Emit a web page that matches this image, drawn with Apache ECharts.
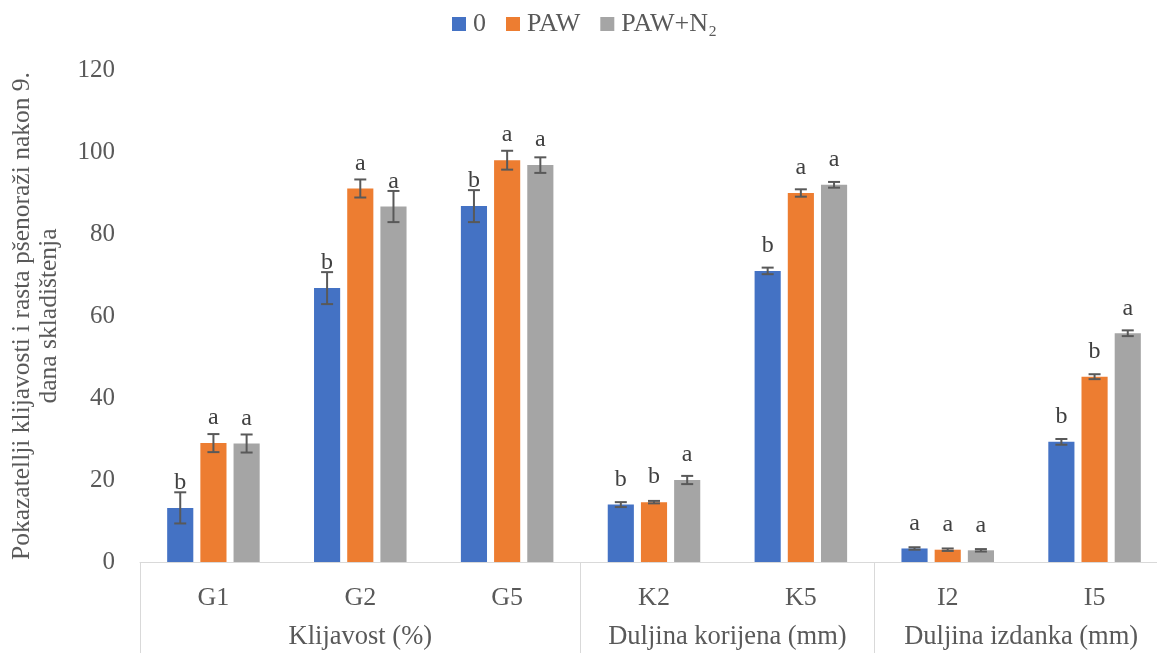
<!DOCTYPE html>
<html>
<head>
<meta charset="utf-8">
<script src="https://cdn.jsdelivr.net/npm/echarts@6/dist/echarts.min.js"></script>
<style>html,body{margin:0;padding:0;background:#fff;}#c{width:1157px;height:653px;}</style>
</head>
<body>
<div id="c"></div>
<script>
// ---- data ----
const categories = ['G1', 'G2', 'G5', 'K2', 'K5', 'I2', 'I5'];
const groupLabels = ['Klijavost (%)', 'Duljina korijena (mm)', 'Duljina izdanka (mm)'];
const groupBounds = [0, 3, 5, 7];        // category index boundaries of the groups
const groupCenters = [1.5, 4, 6];
const seriesNames = ['0', 'PAW', 'PAW+N\u2082'];
const values0 = [13.2, 66.8, 86.8, 14.0, 71.0, 3.3, 29.3];
const valuesPAW = [29.0, 91.1, 98.0, 14.6, 90.0, 3.0, 45.2];
const valuesPAWN2 = [28.9, 86.7, 96.8, 20.0, 92.0, 2.85, 55.8];
const err0 = [3.8, 3.9, 3.9, 0.6, 0.8, 0.3, 0.7];
const errPAW = [2.2, 2.2, 2.3, 0.3, 0.9, 0.3, 0.6];
const errPAWN2 = [2.2, 3.8, 1.9, 1.0, 0.7, 0.3, 0.7];
const letters0 = ['b', 'b', 'b', 'b', 'b', 'a', 'b'];
const lettersPAW = ['a', 'a', 'a', 'b', 'a', 'a', 'b'];
const lettersPAWN2 = ['a', 'a', 'a', 'a', 'a', 'a', 'a'];
const yTicks = { min: 0, max: 120, interval: 20 };
const yTitle = 'Pokazatellji klijavosti i rasta pšenoraži nakon 9.\ndana skladištenja';

// ---- styling ----
const colors = ['#4472C4', '#ED7D31', '#A5A5A5'];
const FONT = '"Liberation Serif", "Times New Roman", serif';
const CAT_GAP = 0.37, BAR_GAP = 0.27;

const chart = echarts.init(document.getElementById('c'), null, { renderer: 'canvas' });

function barSeries(idx, vals, letters) {
  return {
    name: seriesNames[idx], type: 'bar', data: vals,
    itemStyle: { color: colors[idx] },
    barGap: (BAR_GAP * 100) + '%', barCategoryGap: (CAT_GAP * 100) + '%',
    label: {
      show: true, position: 'top', distance: 13,
      formatter: p => letters[p.dataIndex],
      fontFamily: FONT, fontSize: 24, color: '#404040'
    }
  };
}
function errSeries(idx, vals, errs) {
  return {
    type: 'custom', silent: true, z: 10,
    data: vals.map((v, i) => [i, v, errs[i]]),
    encode: { x: 0, y: 1 },
    renderItem: function (params, api) {
      const i = api.value(0), v = api.value(1), e = api.value(2);
      const band = api.size([1, 0])[0];
      const barW = band * (1 - CAT_GAP) / (3 + 2 * BAR_GAP);
      const off = (idx - 1) * barW * (1 + BAR_GAP);
      const x = api.coord([i, v])[0] + off;
      const yt = api.coord([i, v + e])[1];
      const yb = api.coord([i, v - e])[1];
      const cap = 6;
      const st = { stroke: '#595959', lineWidth: 2 };
      return {
        type: 'group', children: [
          { type: 'line', shape: { x1: x, y1: yt, x2: x, y2: yb }, style: st },
          { type: 'line', shape: { x1: x - cap, y1: yt, x2: x + cap, y2: yt }, style: st },
          { type: 'line', shape: { x1: x - cap, y1: yb, x2: x + cap, y2: yb }, style: st }
        ]
      };
    }
  };
}

chart.setOption({
  animation: false,
  backgroundColor: '#fff',
  textStyle: { fontFamily: FONT },
  legend: {
    top: 6, left: 447,
    itemWidth: 14, itemHeight: 14, itemGap: 20, icon: 'rect',
    data: seriesNames,
    textStyle: { fontFamily: FONT, fontSize: 26, color: '#595959', padding: [0, 0, 0, 2] }
  },
  grid: { left: 140, top: 70, width: 1028, bottom: 91, containLabel: false, outerBoundsMode: 'none' },
  xAxis: [
    {
      type: 'category', data: categories,
      axisLine: { show: true, lineStyle: { color: '#D9D9D9', width: 1 } },
      axisTick: { show: false },
      axisLabel: { fontFamily: FONT, fontSize: 26, color: '#595959', margin: 23 }
    },
    {
      type: 'value', min: 0, max: 7, position: 'bottom',
      axisLine: { show: false },
      splitLine: { show: false },
      axisTick: { show: true, customValues: groupBounds, length: 100, lineStyle: { color: '#D9D9D9', width: 1 } },
      axisLabel: {
        customValues: groupCenters, margin: 62,
        formatter: v => groupLabels[groupCenters.indexOf(v)] || '',
        fontFamily: FONT, fontSize: 26.5, color: '#595959'
      }
    }
  ],
  yAxis: {
    type: 'value', min: yTicks.min, max: yTicks.max, interval: yTicks.interval,
    axisLine: { show: false }, axisTick: { show: false }, splitLine: { show: false },
    axisLabel: { fontFamily: FONT, fontSize: 25, color: '#595959', margin: 25 },
    name: yTitle, nameLocation: 'middle', nameRotate: 90, nameGap: 77,
    nameTextStyle: { fontFamily: FONT, fontSize: 25.5, color: '#595959', lineHeight: 27, align: 'center' }
  },
  series: [
    barSeries(0, values0, letters0),
    barSeries(1, valuesPAW, lettersPAW),
    barSeries(2, valuesPAWN2, lettersPAWN2),
    errSeries(0, values0, err0),
    errSeries(1, valuesPAW, errPAW),
    errSeries(2, valuesPAWN2, errPAWN2)
  ]
});
</script>
</body>
</html>
